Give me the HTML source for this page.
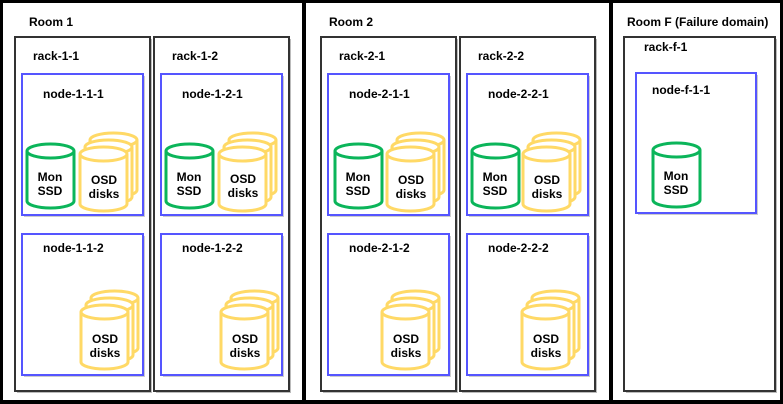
<!DOCTYPE html>
<html><head><meta charset="utf-8"><style>
html,body{margin:0;padding:0;background:#fff;}
svg{display:block;}
text{font-family:"Liberation Sans",Arial,sans-serif;font-weight:bold;font-size:12px;fill:#000;}
</style></head><body>
<svg width="783" height="404" viewBox="0 0 783 404" xmlns="http://www.w3.org/2000/svg">
<defs>
<g id="cyl">
<path d="M0,7 A23.5,7 0 0 1 47,7 L47,57 A23.5,7 0 0 1 0,57 Z" fill="#fff"/>
<path d="M0,7 A23.5,7 0 0 0 47,7" fill="none"/>
</g>
<g id="mon" fill="none" stroke="#0bb55a" stroke-width="3"><use href="#cyl"/></g>
<g id="osd" fill="none" stroke="#ffd966" stroke-width="3">
<use href="#cyl" x="10" y="-14"/><use href="#cyl" x="5" y="-7"/><use href="#cyl"/>
</g>
<g id="rack"><rect x="2" y="2" width="135" height="354" fill="#bbb"/><rect x="0" y="0" width="135" height="354" fill="#fff" stroke="#333" stroke-width="2"/></g>
<g id="node"><rect x="2" y="2" width="121" height="141" fill="#ccc"/><rect x="0" y="0" width="121" height="141" fill="#fff" stroke="#5555ff" stroke-width="2"/></g>
</defs>
<rect x="0" y="0" width="783" height="404" fill="#000"/>
<rect x="3" y="3" width="299" height="397" fill="#fff"/>
<rect x="306" y="3" width="303" height="397" fill="#fff"/>
<rect x="613" y="3" width="167" height="397" fill="#fff"/>

<text x="29" y="26">Room 1</text>
<text x="329" y="26">Room 2</text>
<text x="627" y="26">Room F (Failure domain)</text>

<use href="#rack" x="15" y="37"/><use href="#rack" x="154" y="37"/>
<use href="#rack" x="321" y="37"/><use href="#rack" x="460" y="37"/>
<g><rect x="626" y="39" width="151" height="354" fill="#bbb"/><rect x="624" y="37" width="151" height="354" fill="#fff" stroke="#333" stroke-width="2"/></g>
<text x="33" y="60">rack-1-1</text><text x="172" y="60">rack-1-2</text>
<text x="339" y="60">rack-2-1</text><text x="478" y="60">rack-2-2</text>
<text x="644" y="51">rack-f-1</text>

<use href="#node" x="22" y="74"/><use href="#node" x="161" y="74"/>
<use href="#node" x="328" y="74"/><use href="#node" x="467" y="74"/>
<use href="#node" x="22" y="234"/><use href="#node" x="161" y="234"/>
<use href="#node" x="328" y="234"/><use href="#node" x="467" y="234"/>
<g><rect x="638" y="75" width="120" height="140" fill="#ccc"/><rect x="636" y="73" width="120" height="140" fill="#fff" stroke="#5555ff" stroke-width="2"/></g>
<text x="43" y="98">node-1-1-1</text><text x="182" y="98">node-1-2-1</text>
<text x="349" y="98">node-2-1-1</text><text x="488" y="98">node-2-2-1</text>
<text x="43" y="252">node-1-1-2</text><text x="182" y="252">node-1-2-2</text>
<text x="349" y="252">node-2-1-2</text><text x="488" y="252">node-2-2-2</text>
<text x="652" y="94">node-f-1-1</text>

<use href="#mon" x="27" y="144"/><use href="#mon" x="166" y="144"/>
<use href="#mon" x="335" y="144"/><use href="#mon" x="472" y="144"/>
<use href="#mon" x="653" y="143"/>
<g text-anchor="middle">
<text x="50" y="181">Mon</text><text x="50" y="195">SSD</text>
<text x="189" y="181">Mon</text><text x="189" y="195">SSD</text>
<text x="358" y="181">Mon</text><text x="358" y="195">SSD</text>
<text x="495" y="181">Mon</text><text x="495" y="195">SSD</text>
<text x="676" y="180">Mon</text><text x="676" y="194">SSD</text>
</g>

<use href="#osd" x="80" y="147"/><use href="#osd" x="219" y="147"/>
<use href="#osd" x="387" y="147"/><use href="#osd" x="523" y="147"/>
<use href="#osd" x="81" y="305"/><use href="#osd" x="221" y="305"/>
<use href="#osd" x="382" y="305"/><use href="#osd" x="522" y="305"/>
<g text-anchor="middle">
<text x="104" y="184">OSD</text><text x="104" y="198">disks</text>
<text x="243" y="183">OSD</text><text x="243" y="197">disks</text>
<text x="411" y="184">OSD</text><text x="411" y="198">disks</text>
<text x="547" y="184">OSD</text><text x="547" y="198">disks</text>
<text x="105" y="343">OSD</text><text x="105" y="357">disks</text>
<text x="245" y="343">OSD</text><text x="245" y="357">disks</text>
<text x="406" y="343">OSD</text><text x="406" y="357">disks</text>
<text x="546" y="343">OSD</text><text x="546" y="357">disks</text>
</g>
</svg>
</body></html>
